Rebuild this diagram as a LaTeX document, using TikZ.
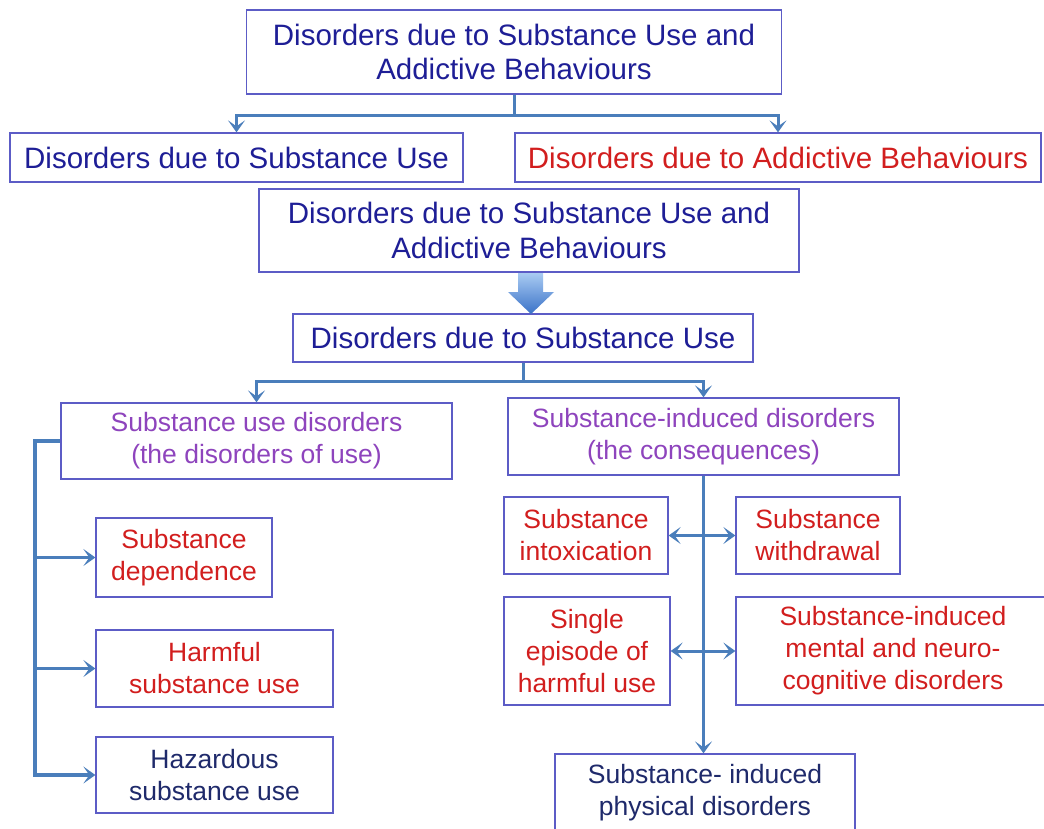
\documentclass[tikz,border=0pt]{standalone}
\usepackage{fontspec}
\setmainfont{Liberation Sans}
\usetikzlibrary{arrows.meta}
\definecolor{tblue}{HTML}{1E1E96}
\definecolor{tred}{HTML}{D21E1E}
\definecolor{tpurp}{HTML}{8E44BD}
\definecolor{tnavy}{HTML}{1F2A6B}
\definecolor{bord}{HTML}{5C5CC6}
\definecolor{connc}{HTML}{4A7EBB}
\definecolor{shtop}{HTML}{A9CBF2}
\definecolor{shbot}{HTML}{3A72C8}
\newcommand\FBig{\fontsize{29.5}{34.5}\selectfont}
\newcommand\FSm{\fontsize{26.5}{32}\selectfont}
\begin{document}
\begin{tikzpicture}[x=1pt,y=-1pt,
  box/.style={draw=bord,line width=1.3pt,inner sep=0pt,align=center,fill=white},
  conn/.style={draw=connc,line width=3pt},
  arr/.style={conn,-{Stealth[length=12pt,width=17pt,inset=6pt]}},
  darr/.style={conn,{Stealth[length=12pt,width=17pt,inset=6pt]}-{Stealth[length=12pt,width=17pt,inset=6pt]}}]
\path[use as bounding box] (0,0) rectangle (1044,828);
\clip (0,0) rectangle (1044,828);
\fill[white] (0,0) rectangle (1044,828);
% nodes
\node[box,minimum width=535pt,minimum height=84pt,text=tblue,font=\FBig] (top) at (514,52) {Disorders due to Substance Use and\\Addictive Behaviours};
\node[box,minimum width=453pt,minimum height=49pt,text=tblue,font=\FBig] (dsu) at (236.5,157.5) {Disorders due to Substance Use};
\node[box,minimum width=526pt,minimum height=49pt,text=tred,font=\FBig] (dab) at (778,157.5) {Disorders due to Addictive Behaviours};
\node[box,minimum width=540pt,minimum height=83pt,text=tblue,font=\FBig] (top2) at (529,230.5) {Disorders due to Substance Use and\\Addictive Behaviours};
\node[box,minimum width=460pt,minimum height=48pt,text=tblue,font=\FBig] (dsu2) at (523,338) {Disorders due to Substance Use};
\node[box,minimum width=391pt,minimum height=76pt,text=tpurp,font=\FSm] (sud) at (256.5,441) {Substance use disorders\\(the disorders of use)};
\node[box,minimum width=391pt,minimum height=77pt,text=tpurp,font=\FSm] (sid) at (703.5,436.5) {Substance-induced disorders\\(the consequences)};
\node[box,minimum width=176pt,minimum height=79pt,text=tred,font=\FSm] (dep) at (184,557.5) {Substance\\dependence};
\node[box,minimum width=237pt,minimum height=77pt,text=tred,font=\FSm] (harm) at (214.5,668.5) {Harmful\\substance use};
\node[box,minimum width=237pt,minimum height=76pt,text=tnavy,font=\FSm] (haz) at (214.5,775) {Hazardous\\substance use};
\node[box,minimum width=164pt,minimum height=77pt,text=tred,font=\FSm] (intox) at (586,535.5) {Substance\\intoxication};
\node[box,minimum width=164pt,minimum height=77pt,text=tred,font=\FSm] (withd) at (818,535.5) {Substance\\withdrawal};
\node[box,minimum width=166pt,minimum height=108pt,text=tred,font=\FSm] (single) at (587,651) {Single\\episode of\\harmful use};
\node[box,minimum width=314pt,minimum height=108pt,text=tred,font=\FSm] (mental) at (893,651) {Substance-induced\\mental and neuro-\\cognitive disorders};
\node[box,minimum width=300pt,minimum height=78pt,text=tnavy,font=\FSm] (phys) at (705,793) {Substance- induced\\physical disorders};
% connectors
\coordinate (j1) at (514,115);
\draw[conn] (top.south) -- (j1);
\draw[arr] (j1) -| (dsu.north);
\draw[arr] (j1) -| (dab.north);
\shade[top color=shtop,bottom color=shbot] (518,273) -- (543,273) -- (543,292) -- (554,292) -- (531,314) -- (508,292) -- (518,292) -- cycle;
\coordinate (j2) at (523,381);
\draw[conn] (dsu2.south) -- (j2);
\draw[arr] (j2) -| (sud.north);
\draw[arr] (j2) -| (sid.north);
\coordinate (ls) at (35,441);
\draw[arr,line width=3.5pt] (sud.west) -- (ls) |- (haz.west);
\draw[arr] (ls |- dep.west) -- (dep.west);
\draw[arr] (ls |- harm.west) -- (harm.west);
\draw[arr,line width=3.5pt] (sid.south) -- (sid.south |- phys.north);
\draw[darr] (intox.east) -- (withd.west);
\draw[darr] (single.east) -- (mental.west);
\end{tikzpicture}
\end{document}
